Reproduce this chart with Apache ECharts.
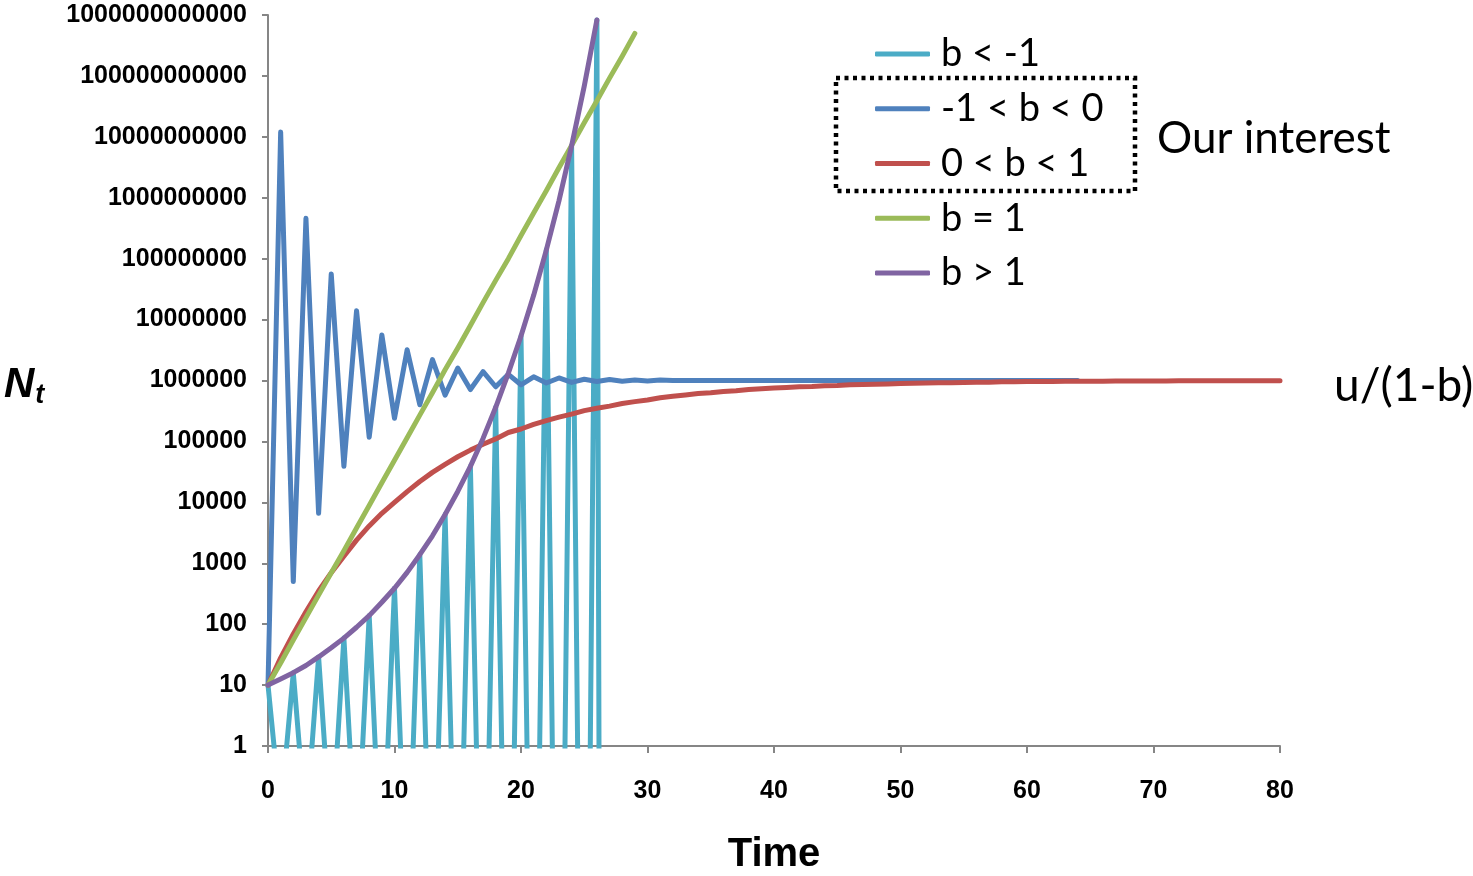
<!DOCTYPE html>
<html>
<head>
<meta charset="utf-8">
<script src="https://cdn.jsdelivr.net/npm/echarts@6/dist/echarts.min.js"></script>
<style>
  html, body { margin: 0; padding: 0; background: #fff; }
  #chart { width: 1473px; height: 876px; }
</style>
</head>
<body>
<div id="chart"></div>
<script>
// Population size N_t over time (t = 0, 1, 2, ...) for five ranges of b.
const seriesNames = ['b < -1', '-1 < b < 0', '0 < b < 1', 'b = 1', 'b > 1'];
const seriesColors = ['#4BACC6', '#4F81BD', '#C0504D', '#9BBB59', '#8064A2'];

// b < -1 : growing oscillation (odd steps fall far below 1)
const bBelowMinus1 = [10, 0.08, 16, 0.047, 29, 0.025, 59, 0.011, 138, 0.0044,
  389, 0.0014, 1380, 3.5e-4, 6310, 6.6e-5, 38900, 8.9e-6, 363000, 7.6e-7,
  5.4e6, 4e-8, 1.4e8, 1.1e-9, 7.1e9, 1.5e-11, 8.3e11, 1e-60];

// -1 < b < 0 : damped oscillation settling at u/(1-b)
const bMinus1To0 = [10, 1.2e10, 500, 4.6e8, 6600, 5.6e7, 39000, 1.4e7, 117000, 5.6e6,
  240000, 3.2e6, 400000, 2.2e6, 575000, 1.6e6, 710000, 1.4e6, 790000, 1.26e6,
  850000, 1.15e6, 910000, 1.1e6, 930000, 1.05e6, 965000, 1.035e6, 975000, 1.02e6,
  985000, 1.015e6, 1e6, 1e6, 1e6, 1e6, 1e6, 1e6, 1e6, 1e6,
  1e6, 1e6, 1e6, 1e6, 1e6, 1e6, 1e6, 1e6, 1e6, 1e6,
  1e6, 1e6, 1e6, 1e6, 1e6, 1e6, 1e6, 1e6, 1e6, 1e6,
  1e6, 1e6, 1e6, 1e6, 1e6];

// 0 < b < 1 : monotone approach to u/(1-b)
const b0To1 = [10, 28, 69, 160, 350, 700, 1300, 2400, 4100, 6600,
  10000, 15000, 22000, 31000, 42000, 56000, 72000, 90000, 110000, 140000,
  160000, 190000, 220000, 250000, 280000, 320000, 350000, 380000, 420000, 450000,
  480000, 520000, 550000, 580000, 610000, 630000, 660000, 680000, 710000, 730000,
  750000, 770000, 790000, 800000, 820000, 830000, 850000, 860000, 870000, 880000,
  890000, 900000, 910000, 920000, 920000, 930000, 940000, 940000, 950000, 950000,
  960000, 960000, 960000, 970000, 970000, 970000, 970000, 980000, 980000, 980000,
  980000, 980000, 990000, 990000, 990000, 990000, 990000, 990000, 990000, 990000,
  990000];

// b = 1 : steady exponential growth
const bEquals1 = [10, 23, 55, 128, 300, 700, 1600, 3800, 8900, 21000,
  49000, 115000, 270000, 630000, 1.5e6, 3.4e6, 8e6, 1.9e7, 4.4e7, 1.0e8,
  2.4e8, 5.6e8, 1.3e9, 3.1e9, 7.2e9, 1.7e10, 3.9e10, 9.2e10, 2.1e11, 5e11];

// b > 1 : accelerating growth
const bAbove1 = [10, 12.6, 16, 21, 29, 41, 59, 89, 138, 229,
  389, 708, 1380, 2820, 6310, 15100, 38900, 112000, 363000, 1.32e6,
  5.37e6, 2.5e7, 1.38e8, 8.9e8, 7.1e9, 6.8e10, 8.3e11];

const allValues = [bBelowMinus1, bMinus1To0, b0To1, bEquals1, bAbove1];

// y ticks: powers of ten from 1 to 10^12; x ticks every 10 steps
const yTickMin = 1;
const yTickMax = 1e12;
const xTickMin = 0;
const xTickMax = 80;
const xTickStep = 10;

const chart = echarts.init(document.getElementById('chart'), null, { renderer: 'canvas' });

const series = allValues.map((vals, k) => ({
  name: seriesNames[k],
  type: 'line',
  data: vals.map((v, t) => [t, v]),
  showSymbol: false,
  symbol: 'none',
  clip: true,
  color: seriesColors[k],
  lineStyle: { width: 5, color: seriesColors[k], join: 'round', cap: 'round' },
  emphasis: { disabled: true },
  animation: false,
  z: 2 + k
}));

const axisGrey = '#868686';
const tickFont = { fontFamily: 'Liberation Sans', fontWeight: 'bold', fontSize: 25, color: '#000' };

chart.setOption({
  animation: false,
  backgroundColor: '#fff',
  grid: { left: 268, right: 193, top: 15, bottom: 130, containLabel: false, outerBoundsMode: 'none' },
  legend: {
    orient: 'vertical',
    left: 870,
    top: 27,
    itemWidth: 55,
    itemHeight: 5,
    itemGap: 10.75,
    icon: 'roundRect',
    selectedMode: false,
    data: seriesNames,
    textStyle: { fontFamily: 'Lato', fontSize: 38, color: '#000', lineHeight: 44, padding: [0, 0, 0, 6] }
  },
  xAxis: {
    type: 'value',
    min: xTickMin,
    max: xTickMax,
    interval: xTickStep,
    name: 'Time',
    nameLocation: 'middle',
    nameGap: 89,
    nameTextStyle: { fontFamily: 'Liberation Sans', fontWeight: 'bold', fontSize: 40, color: '#000' },
    axisLine: { show: true, onZero: false, lineStyle: { color: axisGrey, width: 2 } },
    axisTick: { show: true, inside: false, length: 7, lineStyle: { color: axisGrey, width: 2 } },
    splitLine: { show: false },
    axisLabel: Object.assign({ margin: 33 }, tickFont)
  },
  yAxis: {
    type: 'log',
    logBase: 10,
    min: yTickMin,
    max: yTickMax,
    interval: 1,
    splitNumber: 12,
    axisLine: { show: true, lineStyle: { color: axisGrey, width: 2 } },
    axisTick: { show: true, inside: false, length: 6, lineStyle: { color: axisGrey, width: 2 } },
    splitLine: { show: false },
    axisLabel: Object.assign({
      margin: 21,
      formatter: v => String(Math.round(v))
    }, tickFont)
  },
  graphic: [
    {
      type: 'rect',
      shape: { x: 836, y: 78, width: 299, height: 113 },
      style: { fill: 'none', stroke: '#000', lineWidth: 4.5, lineDash: [4, 4.5] },
      z: 10
    },
    {
      type: 'text',
      x: 1157,
      y: 139,
      style: { text: 'Our interest', fontFamily: 'Lato', fontSize: 44, fill: '#000', textVerticalAlign: 'middle' },
      z: 10
    },
    {
      type: 'text',
      x: 1334,
      y: 386,
      style: { text: 'u/(1-b)', fontFamily: 'Lato', fontSize: 46, fill: '#000', textVerticalAlign: 'middle' },
      z: 10
    },
    {
      type: 'text',
      left: 4,
      top: 364,
      style: {
        text: '{n|N}{t|t}',
        rich: {
          n: { fontFamily: 'Liberation Sans', fontWeight: 'bold', fontStyle: 'italic', fontSize: 42, fill: '#000' },
          t: { fontFamily: 'Liberation Sans', fontWeight: 'bold', fontStyle: 'italic', fontSize: 27, fill: '#000', padding: [22, 0, 0, 1] }
        }
      },
      z: 10
    }
  ],
  series: series
});
</script>
</body>
</html>
